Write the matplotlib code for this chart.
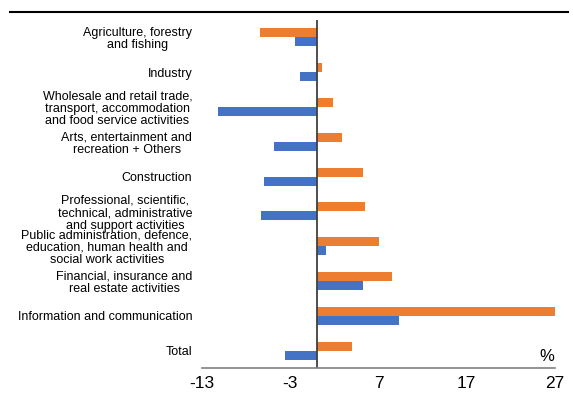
import matplotlib.pyplot as plt
import numpy as np
from matplotlib.lines import Line2D

plt.rcParams['font.family'] = ['Liberation Sans', 'DejaVu Sans']

sectors = [
    "Agriculture, forestry\nand fishing",
    "Industry",
    "Wholesale and retail trade,\ntransport, accommodation\nand food service activities",
    "Arts, entertainment and\nrecreation + Others",
    "Construction",
    "Professional, scientific,\ntechnical, administrative\nand support activities",
    "Public administration, defence,\neducation, human health and\nsocial work activities",
    "Financial, insurance and\nreal estate activities",
    "Information and communication",
    "Total",
]
orange_vals = [-6.4, 0.6, 1.8, 2.9, 5.3, 5.5, 7.0, 8.5, 27.2, 4.0]
blue_vals = [-2.5, -1.9, -11.2, -4.8, -6.0, -6.3, 1.0, 5.2, 9.3, -3.6]
xticks = [-13, -3, 7, 17, 27]

fig = plt.figure(figsize=(5.73, 4.05), dpi=100)
ax = fig.add_axes([202/573, 1 - 368/405, 353/573, 348/405])

y = np.arange(len(sectors))
h = 0.26
ax.barh(y - h/2, orange_vals, height=h, color='#ED7D31')
ax.barh(y + h/2, blue_vals, height=h, color='#4472C4')
ax.axvline(0, color='#404040', lw=1.3)

ax.set_xlim(-13, 27)
ax.set_ylim(len(sectors) - 0.5, -0.5)
ax.set_xticks(xticks)
ax.set_xticklabels([str(t) for t in xticks], fontsize=12.5)
ax.set_yticks(y)
ax.set_yticklabels(sectors, fontsize=9, multialignment='center', linespacing=1.05)
ax.tick_params(axis='both', length=0)
ax.tick_params(axis='y', pad=7)
ax.tick_params(axis='x', pad=6)

for s in ['top', 'right', 'left']:
    ax.spines[s].set_visible(False)
ax.spines['bottom'].set_color('#808080')
ax.spines['bottom'].set_linewidth(1.2)

ax.text(26.9, 9.3, '%', fontsize=12, ha='right', va='baseline')

fig.add_artist(Line2D([10/573, 568/573], [1 - 11.5/405, 1 - 11.5/405],
                      color='black', lw=1.5, transform=fig.transFigure))

fig.savefig('out.png', dpi=100)
